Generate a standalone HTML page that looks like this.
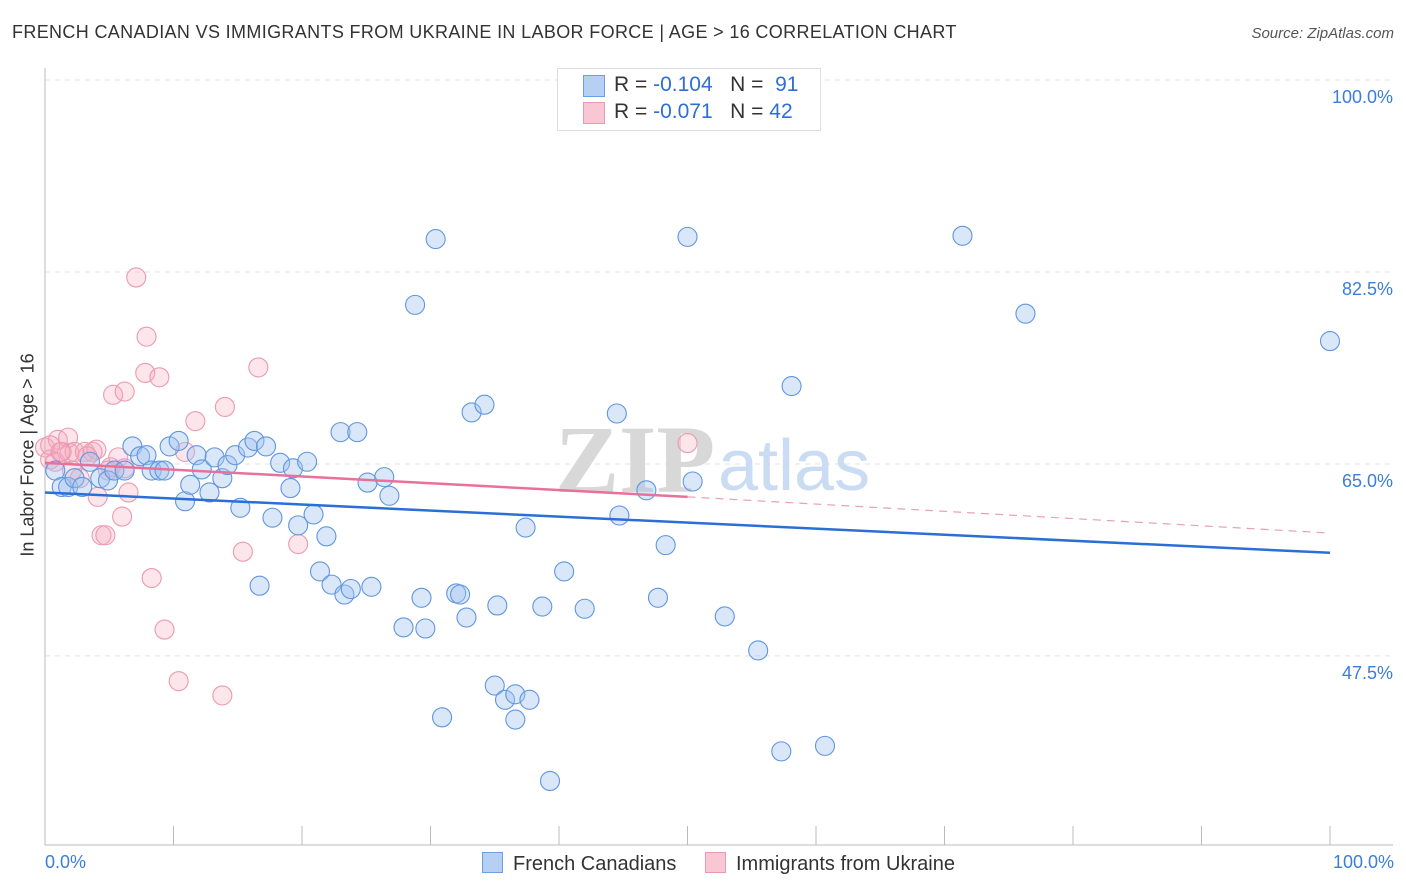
<!DOCTYPE html>
<html><head><meta charset="utf-8"><style>
body{margin:0;background:#fff;font-family:"Liberation Sans",sans-serif;}
#wrap{position:relative;width:1406px;height:892px;overflow:hidden;}
.t{position:absolute;white-space:nowrap;}
</style></head><body>
<div id="wrap">
<div class="t" style="left:12px;top:22px;font-size:18px;letter-spacing:0.35px;color:#333;">FRENCH CANADIAN VS IMMIGRANTS FROM UKRAINE IN LABOR FORCE | AGE &gt; 16 CORRELATION CHART</div>
<div class="t" style="right:12px;top:25px;font-size:15px;color:#555;font-style:italic;">Source: ZipAtlas.com</div>
<svg id="svg" width="1406" height="892" style="position:absolute;left:0;top:0"></svg>
</div>
<script>
const blueX=[0.8,1.3,1.8,2.3,2.9,3.5,4.3,4.9,5.4,6.2,6.8,7.4,7.9,8.3,8.9,9.3,9.7,10.4,10.9,11.3,11.8,12.2,12.8,13.2,13.8,14.2,14.8,15.2,15.8,16.3,16.7,17.2,17.7,18.3,19.1,19.3,19.7,20.4,20.9,21.4,21.9,22.3,23.0,23.3,23.8,24.3,25.1,25.4,26.4,26.8,27.9,28.8,29.3,29.6,30.4,30.9,32.0,32.3,32.8,33.2,34.2,35.0,35.2,35.8,36.6,36.6,37.4,37.7,38.7,39.3,40.4,42.0,44.5,44.7,46.8,47.7,48.3,50.0,50.4,52.9,55.5,57.3,58.1,60.7,71.4,76.3,100];
const blueY=[64.4,62.9,62.9,63.7,62.9,65.2,63.7,63.5,64.4,64.4,66.6,65.7,65.8,64.4,64.4,64.4,66.6,67.1,61.6,63.1,65.8,64.5,62.4,65.6,63.7,64.9,65.8,61.0,66.5,67.1,53.9,66.6,60.1,65.1,62.8,64.6,59.4,65.2,60.4,55.2,58.4,54.0,67.9,53.1,53.6,67.9,63.3,53.8,63.8,62.1,50.1,79.5,52.8,50.0,85.5,41.9,53.2,53.1,51.0,69.7,70.4,44.8,52.1,43.5,44.0,41.7,59.2,43.5,52.0,36.1,55.2,51.8,69.6,60.3,62.6,52.8,57.6,85.7,63.4,51.1,48.0,38.8,72.1,39.3,85.8,78.7,76.2];
const pinkX=[0,0.4,0.8,1.0,1.3,1.8,1.9,2.3,2.7,3.1,3.7,4.0,4.1,4.4,4.7,5.1,5.3,5.7,6.0,6.2,6.5,7.1,7.8,7.9,8.3,8.9,9.3,10.4,10.9,11.7,13.8,14.0,15.4,16.6,19.7,50.0,6.2,3.3,1.2,0.4,4.9,2.1];
const pinkY=[66.5,65.4,65.2,67.2,66.1,67.4,66.0,66.1,63.7,66.1,66.1,66.3,62.0,58.5,58.5,64.7,71.3,65.6,60.2,71.6,62.4,82.0,73.3,76.6,54.6,72.9,49.9,45.2,66.1,68.9,43.9,70.2,57.0,73.8,57.7,66.9,64.6,65.7,66.1,66.7,64.4,64.4];
const yTicks=[100,82.5,65,47.5];
const yTickLabels=["100.0%","82.5%","65.0%","47.5%"];
const blueTrend=[62.4,56.9];
const pinkTrend=[65.1,62.0,58.7];

const NS="http://www.w3.org/2000/svg";
const svg=document.getElementById('svg');
const X=v=>45+v*12.85;
const Y=v=>80+(100-v)*10.97;
function mk(tag,attrs,parent){const e=document.createElementNS(NS,tag);for(const k in attrs)e.setAttribute(k,attrs[k]);(parent||svg).appendChild(e);return e;}

yTicks.forEach((t,i)=>{
  const g=mk('line',{x1:45,x2:1393,y1:Y(t),y2:Y(t),stroke:'#e2e2e2','stroke-dasharray':'5,5'});
  
  
  const tx=mk('text',{x:1393,y:Y(t)+23,'text-anchor':'end','font-size':18,fill:'#3b7ddd','font-family':'Liberation Sans'});
  tx.textContent=yTickLabels[i];
  
  
});
const ax=mk('line',{x1:45,x2:45,y1:68,y2:845,stroke:'#bbb'});


const bx=mk('line',{x1:45,x2:1393,y1:845,y2:845,stroke:'#bbb'});


for(let i=0;i<=10;i++){
  const tk=mk('line',{x1:X(i*10),x2:X(i*10),y1:826,y2:845,stroke:'#bbb'});
  
  
}
const wm=mk('text',{x:555,y:492,'font-size':96,fill:'#d8d8d8','font-family':'Liberation Serif','font-weight':'bold'});
wm.textContent='ZIP';


const wm2=mk('text',{x:718,y:490,'font-size':72,fill:'#c9dcf3','font-family':'Liberation Sans'});
wm2.textContent='atlas';



pinkX.forEach((x,i)=>{
  const c=mk('circle',{cx:X(x),cy:Y(pinkY[i]),r:9.5,fill:'rgba(245,170,190,0.3)',stroke:'#eb9ab2','stroke-width':1.1});
  
  
});
blueX.forEach((x,i)=>{
  const c=mk('circle',{cx:X(x),cy:Y(blueY[i]),r:9.5,fill:'rgba(160,195,240,0.4)',stroke:'#5f96e0','stroke-width':1.1});
  
  
});
const bl=mk('line',{x1:X(0),y1:Y(blueTrend[0]),x2:X(100),y2:Y(blueTrend[1]),stroke:'#2a6fd6','stroke-width':2.5});


const pl=mk('line',{x1:X(0),y1:Y(pinkTrend[0]),x2:X(50),y2:Y(pinkTrend[1]),stroke:'#e8709a','stroke-width':2.5});


const pd=mk('line',{x1:X(50),y1:Y(pinkTrend[1]),x2:X(100),y2:Y(pinkTrend[2]),stroke:'#e8a0b5','stroke-width':1.2,'stroke-dasharray':'8,6'});


</script>
<div class="t" style="left:557px;top:68px;width:262px;height:61px;border:1px solid #ddd;background:#fff;"></div>
<div class="t" style="left:583px;top:75px;width:20px;height:20px;background:#b6d0f3;border:1px solid #6d9ee3;"></div>
<div class="t" style="left:614px;top:73px;font-size:21px;color:#333;">R = <span style="color:#2f6fd0">-0.104</span>&nbsp;&nbsp;&nbsp;N = &nbsp;<span style="color:#2f6fd0">91</span></div>
<div class="t" style="left:583px;top:102px;width:20px;height:20px;background:#f9c6d3;border:1px solid #e99ab2;"></div>
<div class="t" style="left:614px;top:100px;font-size:21px;color:#333;">R = <span style="color:#2f6fd0">-0.071</span>&nbsp;&nbsp;&nbsp;N = <span style="color:#2f6fd0">42</span></div>
<div class="t" style="left:28px;top:455px;font-size:18px;color:#333;transform:translate(-50%,-50%) rotate(-90deg);">In Labor Force | Age &gt; 16</div>
<div class="t" style="left:45px;top:852px;font-size:18px;color:#3b7ddd;">0.0%</div>
<div class="t" style="right:12px;top:852px;font-size:18px;color:#3b7ddd;">100.0%</div>
<div class="t" style="left:482px;top:852px;font-size:20px;color:#333;"><span style="display:inline-block;width:19px;height:19px;background:#b6d0f3;border:1px solid #6d9ee3;vertical-align:-3px;margin-right:10px;"></span>French Canadians</div>
<div class="t" style="left:705px;top:852px;font-size:20px;color:#333;"><span style="display:inline-block;width:19px;height:19px;background:#f9c6d3;border:1px solid #e99ab2;vertical-align:-3px;margin-right:10px;"></span>Immigrants from Ukraine</div>
</body></html>
